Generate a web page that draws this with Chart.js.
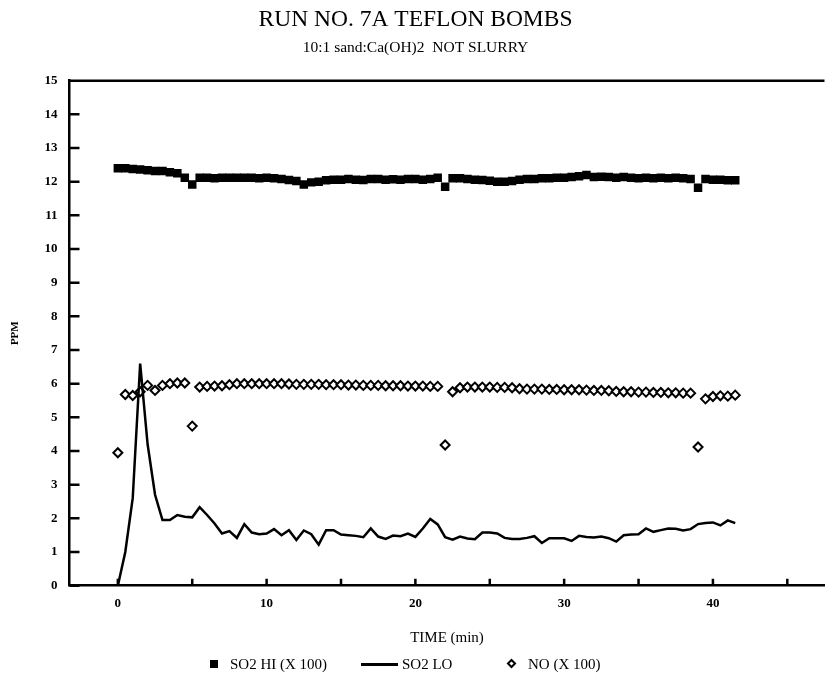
<!DOCTYPE html>
<html>
<head>
<meta charset="utf-8">
<title>RUN NO. 7A TEFLON BOMBS</title>
<script src="https://cdn.jsdelivr.net/npm/chart.js@4.4.1/dist/chart.umd.min.js"></script>
<style>
  html, body { margin: 0; padding: 0; background: #fff; }
  #lienzo { position: relative; width: 831px; height: 680px; }
  canvas { display: block; }
  #leyenda {
    position: absolute; left: 0; top: 655px; width: 831px; height: 18px;
    font: 15px 'Liberation Serif', 'Times New Roman', serif; color: #000;
  }
  #leyenda span { position: absolute; }
  #leyenda .texto { top: 0; line-height: 18px; white-space: nowrap; }
  #leyenda .cuadro { top: 5px; width: 8px; height: 8px; background: #000; }
  #leyenda .linea { top: 8px; width: 37px; height: 2.5px; background: #000; }
  #leyenda .rombo { top: 5px; width: 3px; height: 3px; border: 2px solid #000; background: #fff; transform: rotate(45deg); }
</style>
</head>
<body>
<div id="lienzo">
  <canvas id="grafica" width="831" height="680"></canvas>
  <div id="leyenda"></div>
</div>
<script>

// DATOS (muestreo cada 30 s)

const tiempos = [
   0,  0.5,  1,  1.5,  2,  2.5,  3,  3.5,  4,  4.5,
   5,  5.5,  6,  6.5,  7,  7.5,  8,  8.5,  9,  9.5,
  10, 10.5, 11, 11.5, 12, 12.5, 13, 13.5, 14, 14.5,
  15, 15.5, 16, 16.5, 17, 17.5, 18, 18.5, 19, 19.5,
  20, 20.5, 21, 21.5, 22, 22.5, 23, 23.5, 24, 24.5,
  25, 25.5, 26, 26.5, 27, 27.5, 28, 28.5, 29, 29.5,
  30, 30.5, 31, 31.5, 32, 32.5, 33, 33.5, 34, 34.5,
  35, 35.5, 36, 36.5, 37, 37.5, 38, 38.5, 39, 39.5,
  40, 40.5, 41, 41.5
];

// SO2 HI (X 100)
const so2Hi = [
  12.40, 12.40, 12.38, 12.36, 12.34, 12.32, 12.32, 12.28, 12.25, 12.12,
  11.92, 12.12, 12.12, 12.10, 12.12, 12.12, 12.12, 12.12, 12.12, 12.10,
  12.12, 12.10, 12.08, 12.05, 12.02, 11.92, 11.98, 12.00, 12.04, 12.06,
  12.06, 12.08, 12.06, 12.05, 12.08, 12.08, 12.06, 12.07, 12.06, 12.08,
  12.08, 12.06, 12.08, 12.12, 11.85, 12.10, 12.10, 12.08, 12.06, 12.05,
  12.03, 12.00, 12.00, 12.02, 12.06, 12.08, 12.08, 12.10, 12.10, 12.12,
  12.12, 12.14, 12.16, 12.20, 12.14, 12.15, 12.14, 12.12, 12.14, 12.12,
  12.10, 12.12, 12.10, 12.12, 12.10, 12.12, 12.10, 12.08, 11.82, 12.08,
  12.06, 12.06, 12.04, 12.04
];

// SO2 LO
const so2Lo = [
  0.00, 1.00, 2.60, 6.60, 4.20, 2.70, 1.95, 1.95, 2.10, 2.05,
  2.03, 2.33, 2.10, 1.85, 1.55, 1.62, 1.42, 1.83, 1.58, 1.53,
  1.55, 1.68, 1.50, 1.65, 1.36, 1.64, 1.53, 1.22, 1.65, 1.65,
  1.52, 1.50, 1.48, 1.44, 1.70, 1.46, 1.39, 1.49, 1.47, 1.55,
  1.45, 1.70, 1.98, 1.82, 1.44, 1.37, 1.46, 1.40, 1.38, 1.58,
  1.58, 1.55, 1.42, 1.39, 1.39, 1.42, 1.47, 1.27, 1.41, 1.41,
  1.41, 1.33, 1.48, 1.45, 1.43, 1.46, 1.41, 1.31, 1.50, 1.52,
  1.53, 1.70, 1.60, 1.65, 1.70, 1.69, 1.64, 1.68, 1.83, 1.86,
  1.88, 1.79, 1.94, 1.86
];

// NO (X 100)
const noX100 = [
  3.95, 5.68, 5.65, 5.76, 5.95, 5.80, 5.95, 6.00, 6.02, 6.02,
  4.74, 5.90, 5.92, 5.93, 5.94, 5.97, 6.00, 6.00, 6.00, 6.00,
  6.00, 6.00, 6.00, 5.99, 5.98, 5.98, 5.98, 5.98, 5.97, 5.97,
  5.97, 5.96, 5.96, 5.95, 5.95, 5.95, 5.94, 5.94, 5.94, 5.93,
  5.93, 5.93, 5.92, 5.92, 4.18, 5.76, 5.88, 5.90, 5.90, 5.90,
  5.90, 5.89, 5.89, 5.88, 5.85, 5.84, 5.84, 5.84, 5.83, 5.83,
  5.82, 5.82, 5.82, 5.81, 5.80, 5.80, 5.79, 5.77, 5.76, 5.76,
  5.75, 5.75, 5.74, 5.74, 5.73, 5.73, 5.72, 5.72, 4.12, 5.55,
  5.62, 5.64, 5.63, 5.66
];

const ticksX = [0, 10, 20, 30, 40];

const serif = "'Liberation Serif', 'Times New Roman', serif";

function puntos(valores){
    return tiempos.map((t, i) => ({ x: t, y: valores[i] }));
}


// LEYENDA EN HTML (marca y texto de cada serie)

const posLeyenda = [
    { marca: 'cuadro', xMarca: 210, xTexto: 230 },
    { marca: 'linea',  xMarca: 361, xTexto: 402 },
    { marca: 'rombo',  xMarca: 508, xTexto: 528 }
];

const leyendaHtml = {
    id: 'leyendaHtml',
    afterUpdate(chart){
        const caja = document.getElementById('leyenda');
        caja.innerHTML = '';
        chart.data.datasets.forEach((ds, i) => {
            const p = posLeyenda[i];
            const m = document.createElement('span');
            m.className = p.marca;
            m.style.left = p.xMarca + 'px';
            const t = document.createElement('span');
            t.className = 'texto';
            t.style.left = p.xTexto + 'px';
            t.textContent = ds.label;
            caja.appendChild(m);
            caja.appendChild(t);
        });
    }
};


// MARCO Y MARCAS HACIA DENTRO

const marco = {
    id: 'marco',
    afterDatasetsDraw(chart){
        const {ctx, chartArea, scales} = chart;
        ctx.save();
        ctx.strokeStyle = '#000';
        ctx.lineWidth = 2.5;
        ctx.beginPath();
        ctx.moveTo(chartArea.left, chartArea.top);
        ctx.lineTo(chartArea.right, chartArea.top);
        scales.x.ticks.forEach(t => {
            const px = scales.x.getPixelForValue(t.value);
            ctx.moveTo(px, chartArea.bottom);
            ctx.lineTo(px, chartArea.bottom - 7);
        });
        scales.y.ticks.forEach(t => {
            const py = scales.y.getPixelForValue(t.value);
            ctx.moveTo(chartArea.left, py);
            ctx.lineTo(chartArea.left + 10, py);
        });
        ctx.stroke();
        ctx.restore();
    }
};


// GRAFICA

const ctx = document.getElementById('grafica');

new Chart(ctx, {

    type: 'scatter',

    data: {
        datasets: [
            {
                label: 'SO2 HI (X 100)',
                data: puntos(so2Hi),
                showLine: false,
                pointStyle: 'rect',
                pointRadius: 6,
                backgroundColor: '#000',
                borderColor: '#000',
                borderWidth: 0
            },
            {
                label: 'SO2 LO',
                data: puntos(so2Lo),
                showLine: true,
                pointRadius: 0,
                borderColor: '#000',
                borderWidth: 2.5,
                tension: 0
            },
            {
                label: 'NO (X 100)',
                data: puntos(noX100),
                showLine: false,
                pointStyle: 'rectRot',
                pointRadius: 4.5,
                backgroundColor: '#fff',
                borderColor: '#000',
                borderWidth: 2
            }
        ]
    },

    options: {

        responsive: false,
        animation: false,

        layout: {
            padding: { top: 0, right: 0, bottom: 33, left: 0 }
        },

        plugins: {
            title: {
                display: true,
                text: 'RUN NO. 7A TEFLON BOMBS',
                color: '#000',
                font: { family: serif, size: 23.5, weight: 'normal' },
                padding: { top: 6, bottom: 0 }
            },
            subtitle: {
                display: true,
                text: '10:1 sand:Ca(OH)2  NOT SLURRY',
                color: '#000',
                font: { family: serif, size: 15.5, weight: 'normal' },
                padding: { top: 4.5, bottom: 23.4 }
            },
            legend: { display: false },
            tooltip: { enabled: false }
        },

        scales: {

            x: {
                type: 'linear',
                min: -3.25,
                max: 47.5,
                grid: { display: false, drawTicks: false },
                border: { display: true, color: '#000', width: 2.5 },
                ticks: {
                    stepSize: 5,
                    includeBounds: false,
                    padding: 10,
                    color: '#000',
                    font: { family: serif, size: 13, weight: 'bold' },
                    maxRotation: 0,
                    autoSkip: false,
                    callback: v => ticksX.includes(v) ? String(v) : ''
                },
                title: {
                    display: true,
                    text: 'TIME (min)',
                    color: '#000',
                    font: { family: serif, size: 15, weight: 'normal' },
                    padding: { top: 7.7, bottom: 0 }
                }
            },

            y: {
                min: 0,
                max: 15,
                grid: { display: false, drawTicks: false },
                border: { display: true, color: '#000', width: 2.5 },
                ticks: {
                    stepSize: 1,
                    padding: 12,
                    color: '#000',
                    font: { family: serif, size: 13, weight: 'bold' }
                },
                title: {
                    display: true,
                    text: 'PPM',
                    color: '#000',
                    font: { family: serif, size: 11, weight: 'bold' },
                    padding: { top: 8.4, bottom: 10.9 }
                }
            }

        }

    },

    plugins: [marco, leyendaHtml]

});

</script>
</body>
</html>
